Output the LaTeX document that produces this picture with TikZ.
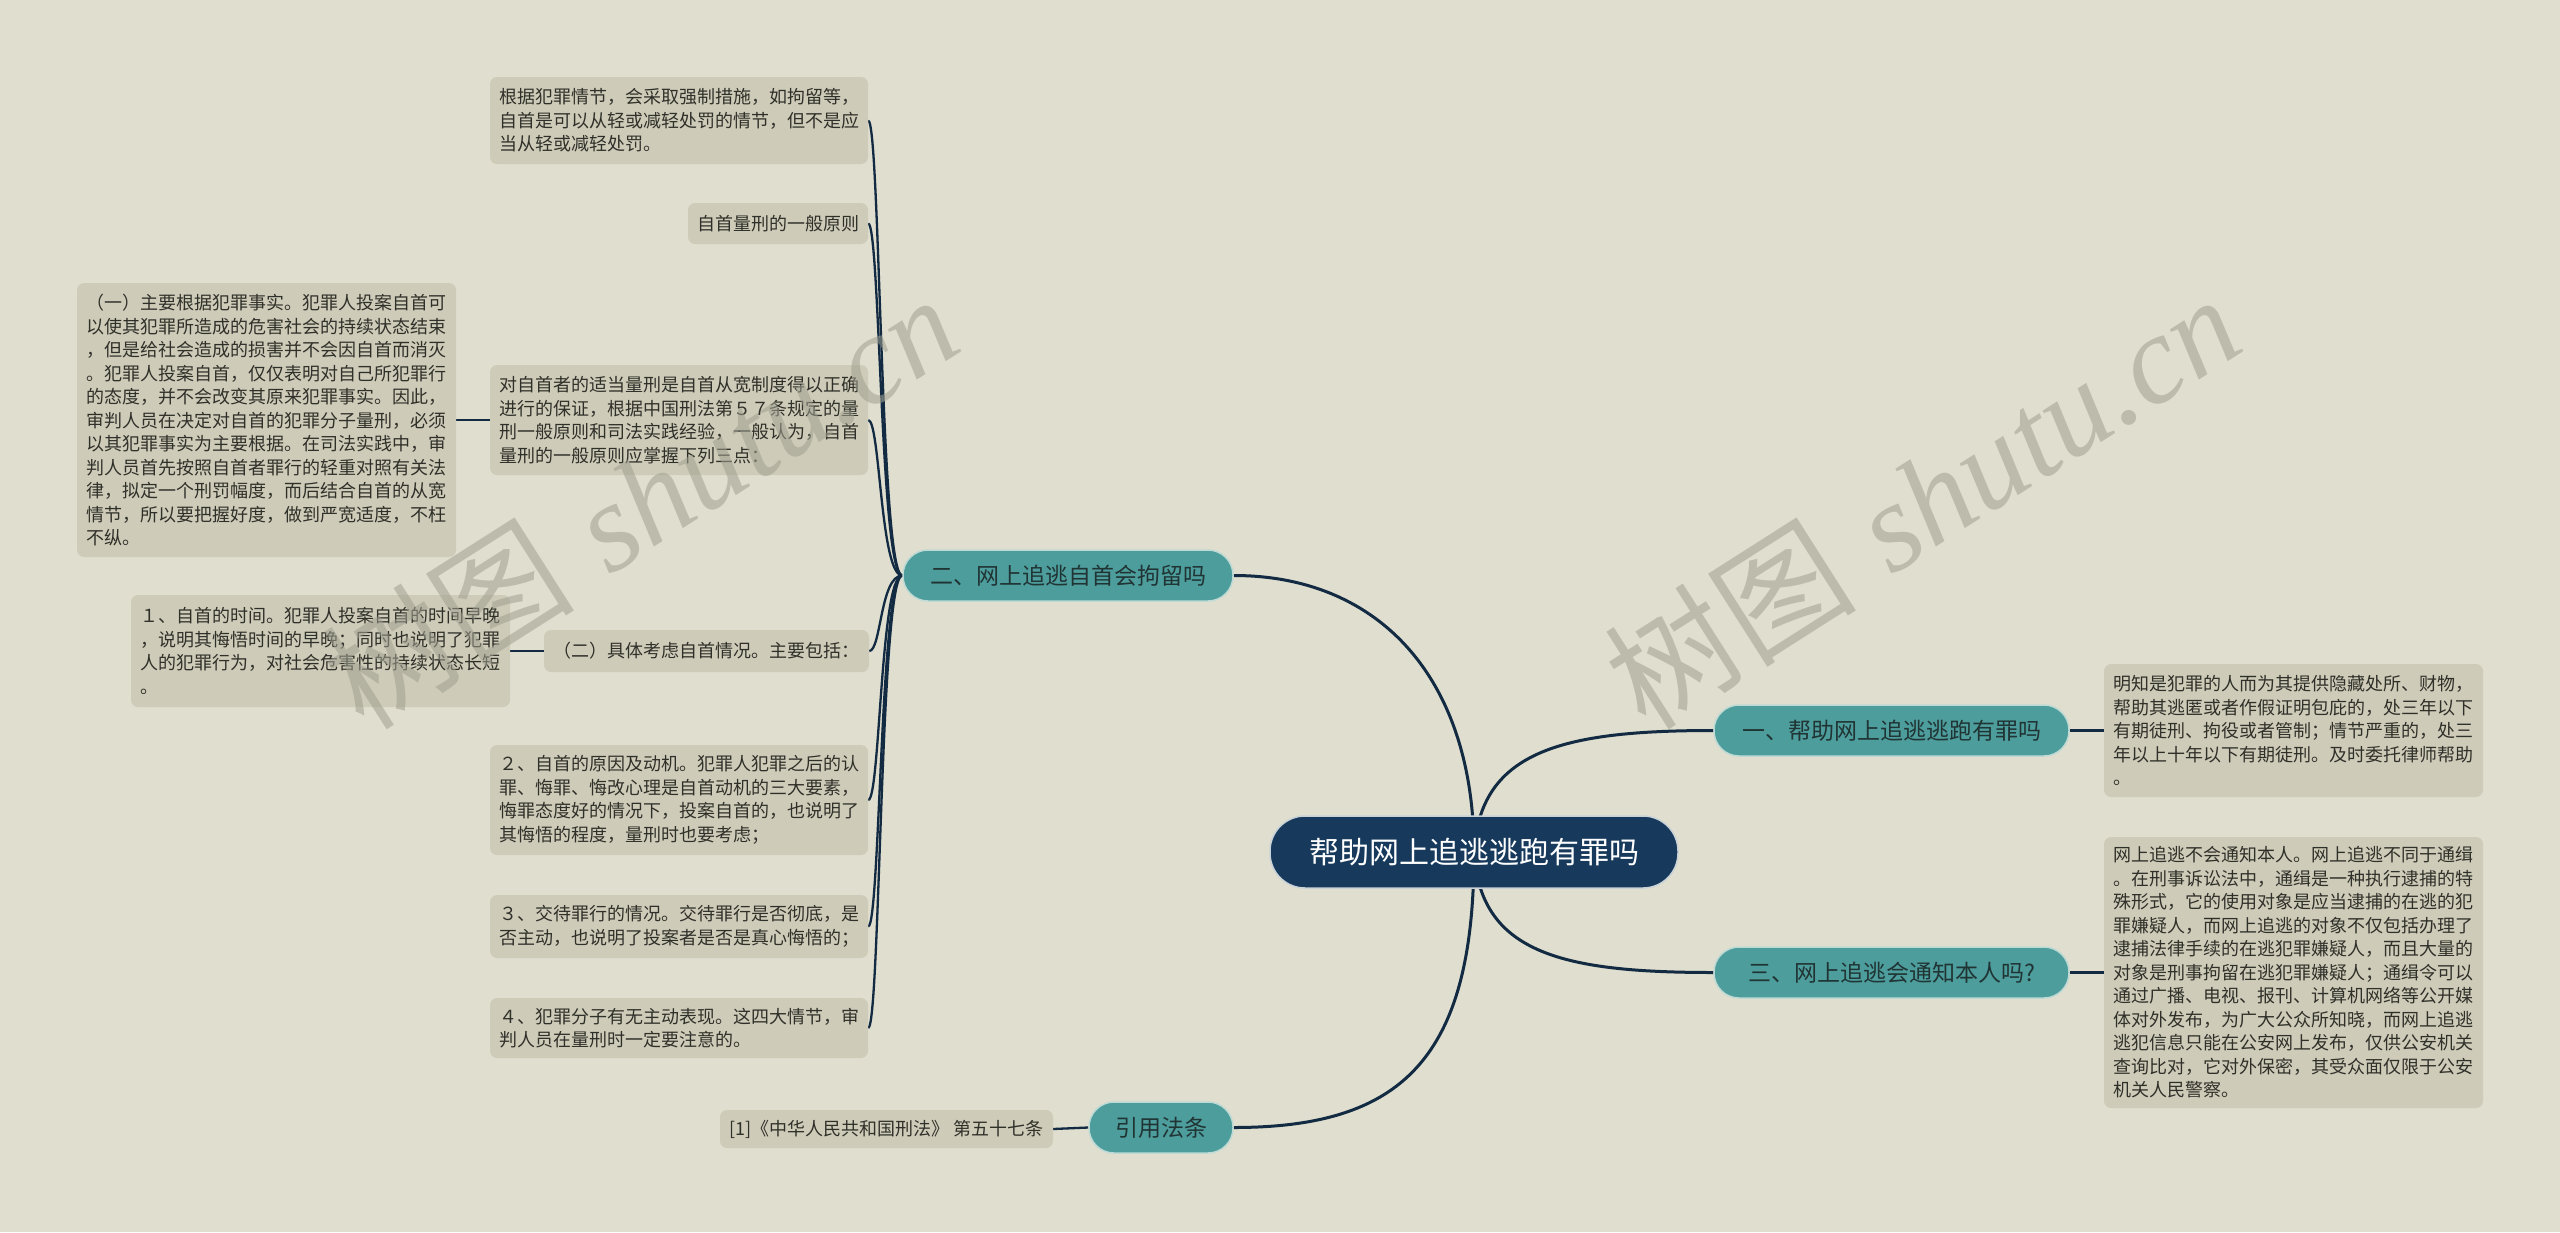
\documentclass[tikz,border=0pt]{standalone}
\usepackage{fontspec}
\newfontfamily\cjk{Noto Sans CJK SC}
\newfontfamily\wmlatin{Liberation Serif}
\usetikzlibrary{backgrounds}
\definecolor{bgc}{RGB}{223,222,207}
\definecolor{leafc}{RGB}{206,204,184}
\definecolor{tealc}{RGB}{78,157,157}
\definecolor{tealedge}{RGB}{190,218,212}
\definecolor{navyc}{RGB}{23,58,92}
\definecolor{navyedge}{RGB}{200,210,215}
\definecolor{linec}{RGB}{18,42,66}
\definecolor{txtc}{RGB}{48,48,42}
\definecolor{topictxt}{RGB}{32,52,52}
\definecolor{wmc}{RGB}{160,160,145}
\begin{document}
\begin{tikzpicture}[x=1pt,y=-1pt,
  leafbox/.style={fill=leafc, rounded corners=7pt, text=txtc, align=left, inner sep=0pt,
    font=\cjk\fontsize{18}{23.5}\selectfont},
  topic/.style={fill=tealc, draw=tealedge, line width=1.5pt, rounded corners=25pt, text=topictxt,
    inner sep=0pt, minimum height=51pt, font=\cjk\fontsize{23}{28}\selectfont},
  rootbox/.style={fill=navyc, draw=navyedge, line width=1.5pt, rounded corners=35pt, text=white,
    inner sep=0pt, minimum height=72pt, minimum width=408pt, font=\cjk\fontsize{30}{36}\selectfont},
  mainline/.style={draw=linec, line width=3pt},
  branch/.style={draw=linec, line width=2.3pt},
  wmark/.style={rotate=32.5, text=wmc, opacity=0.55, inner sep=0pt, font=\fontsize{126}{126}\selectfont}
]
\useasboundingbox (0,0) rectangle (2560,1232);

% root and topics
\node[rootbox] (c) at (1474,852) {帮助网上追逃逃跑有罪吗};
\node[topic, minimum width=330pt] (n2) at (1068,575.5) {二、网上追逃自首会拘留吗};
\node[topic, minimum width=355pt] (n1) at (1891.5,730.5) {一、帮助网上追逃逃跑有罪吗};
\node[topic, minimum width=355pt] (n3) at (1891.5,972.5) {三、网上追逃会通知本人吗?};
\node[topic, minimum width=144pt] (n4) at (1161,1127.5) {引用法条};

% left leaves
\node[leafbox, minimum width=378pt, minimum height=87pt] (l1) at (679,120.5)
  {根据犯罪情节，会采取强制措施，如拘留等，\\自首是可以从轻或减轻处罚的情节，但不是应\\当从轻或减轻处罚。};
\node[leafbox, minimum width=180pt, minimum height=41pt] (l2) at (778,223.5)
  {自首量刑的一般原则};
\node[leafbox, minimum width=378pt, minimum height=110pt] (l3) at (679,420)
  {对自首者的适当量刑是自首从宽制度得以正确\\进行的保证，根据中国刑法第５７条规定的量\\刑一般原则和司法实践经验，一般认为，自首\\量刑的一般原则应掌握下列三点：};
\node[leafbox, minimum width=379pt, minimum height=274pt] (l3a) at (266.5,420)
  {（一）主要根据犯罪事实。犯罪人投案自首可\\以使其犯罪所造成的危害社会的持续状态结束\\，但是给社会造成的损害并不会因自首而消灭\\。犯罪人投案自首，仅仅表明对自己所犯罪行\\的态度，并不会改变其原来犯罪事实。因此，\\审判人员在决定对自首的犯罪分子量刑，必须\\以其犯罪事实为主要根据。在司法实践中，审\\判人员首先按照自首者罪行的轻重对照有关法\\律，拟定一个刑罚幅度，而后结合自首的从宽\\情节，所以要把握好度，做到严宽适度，不枉\\不纵。};
\node[leafbox, minimum width=325pt, minimum height=42pt] (l4) at (706.5,651)
  {（二）具体考虑自首情况。主要包括：};
\node[leafbox, minimum width=379pt, minimum height=112pt] (l4a) at (320.5,651)
  {１、自首的时间。犯罪人投案自首的时间早晚\\，说明其悔悟时间的早晚；同时也说明了犯罪\\人的犯罪行为，对社会危害性的持续状态长短\\。};
\node[leafbox, minimum width=378pt, minimum height=110pt] (l5) at (679,800)
  {２、自首的原因及动机。犯罪人犯罪之后的认\\罪、悔罪、悔改心理是自首动机的三大要素，\\悔罪态度好的情况下，投案自首的，也说明了\\其悔悟的程度，量刑时也要考虑；};
\node[leafbox, minimum width=378pt, minimum height=63pt] (l6) at (679,926.5)
  {３、交待罪行的情况。交待罪行是否彻底，是\\否主动，也说明了投案者是否是真心悔悟的；};
\node[leafbox, minimum width=378pt, minimum height=60pt] (l7) at (679,1028)
  {４、犯罪分子有无主动表现。这四大情节，审\\判人员在量刑时一定要注意的。};
\node[leafbox, minimum width=333pt, minimum height=38pt] (ref) at (886.5,1129)
  {[1]《中华人民共和国刑法》 第五十七条};

% right leaves
\node[leafbox, minimum width=379pt, minimum height=133pt] (r1) at (2293.5,730.5)
  {明知是犯罪的人而为其提供隐藏处所、财物，\\帮助其逃匿或者作假证明包庇的，处三年以下\\有期徒刑、拘役或者管制；情节严重的，处三\\年以上十年以下有期徒刑。及时委托律师帮助\\。};
\node[leafbox, minimum width=379pt, minimum height=271pt] (r2) at (2293.5,972.5)
  {网上追逃不会通知本人。网上追逃不同于通缉\\。在刑事诉讼法中，通缉是一种执行逮捕的特\\殊形式，它的使用对象是应当逮捕的在逃的犯\\罪嫌疑人，而网上追逃的对象不仅包括办理了\\逮捕法律手续的在逃犯罪嫌疑人，而且大量的\\对象是刑事拘留在逃犯罪嫌疑人；通缉令可以\\通过广播、电视、报刊、计算机网络等公开媒\\体对外发布，为广大公众所知晓，而网上追逃\\逃犯信息只能在公安网上发布，仅供公安机关\\查询比对，它对外保密，其受众面仅限于公安\\机关人民警察。};

\begin{pgfonlayer}{background}
\fill[bgc] (0,0) rectangle (2560,1232);
% root to topics
\draw[mainline] (c.center) .. controls +(0,-172) and +(147,0) .. (n2.east);
\draw[mainline] (c.center) .. controls +(0,208) and +(167,0) .. (n4.east);
\draw[mainline] (c.center) .. controls +(6,-100) and +(-154,0) .. (n1.west);
\draw[mainline] (c.center) .. controls +(6,100) and +(-154,0) .. (n3.west);
% topic 2 to leaves
\foreach \leaf in {l1,l2,l3,l4,l5,l6,l7}
  \draw[branch] (n2.west) .. controls +(-22,0) and +(12,0) .. (\leaf.east);
\draw[branch] (l3.west) -- (l3a.east);
\draw[branch] (l4.west) -- (l4a.east);
\draw[branch] (n1.east) -- (r1.west);
\draw[branch] (n3.east) -- (r2.west);
\draw[branch] (n4.west) -- (ref.east);
\end{pgfonlayer}

% watermarks
\node[wmark] (wm1) at (640,500) {{\cjk 树图} {\wmlatin\itshape shutu.cn}};
\node[wmark] (wm2) at (1922,500) {{\cjk 树图} {\wmlatin\itshape shutu.cn}};
\end{tikzpicture}
\end{document}
